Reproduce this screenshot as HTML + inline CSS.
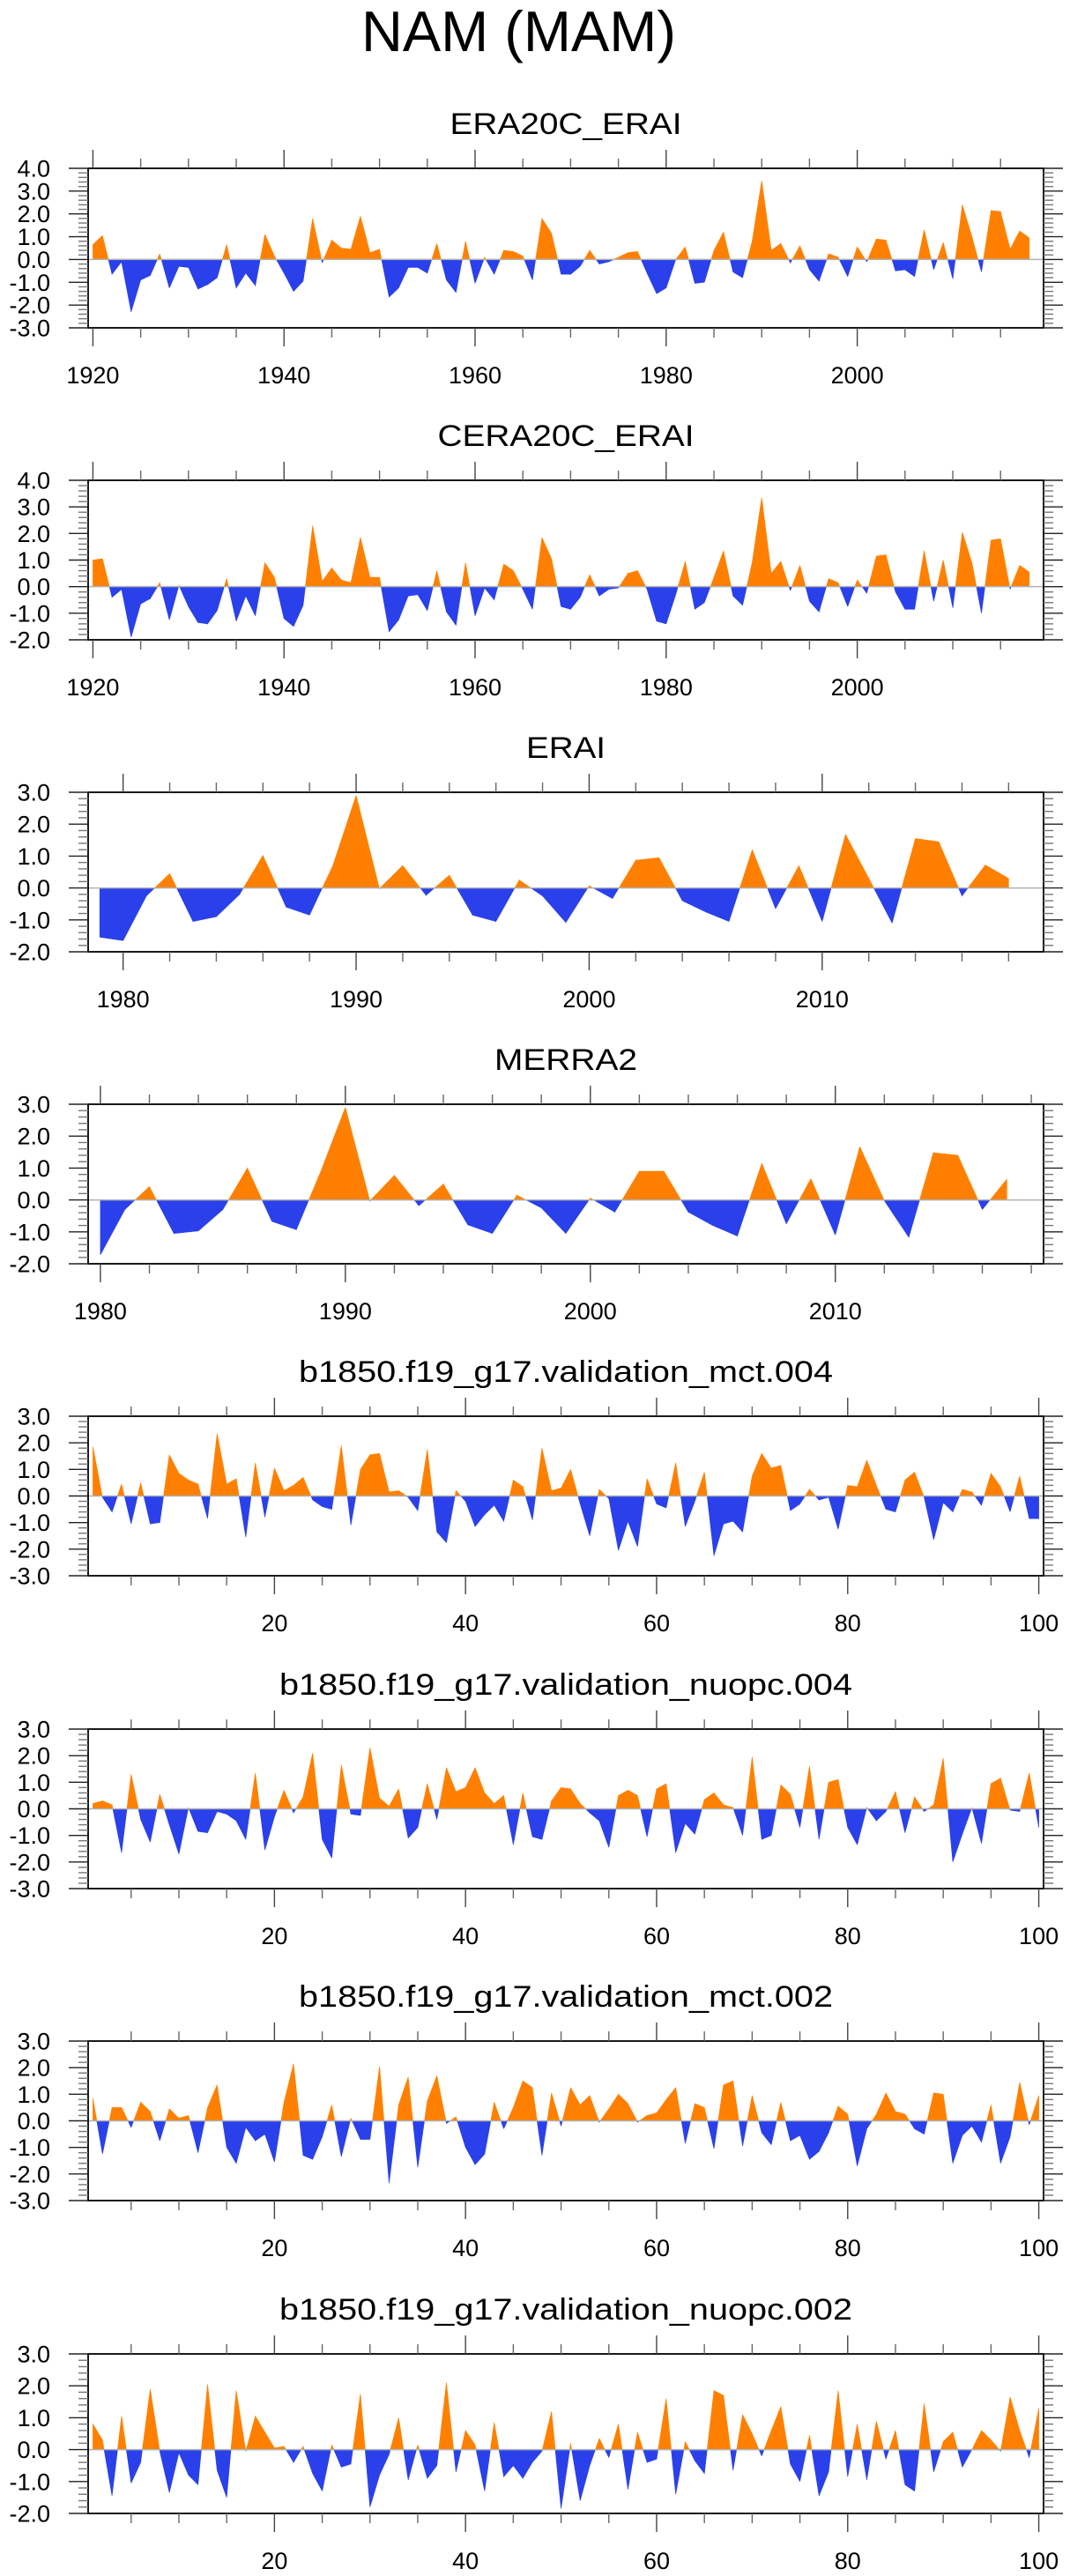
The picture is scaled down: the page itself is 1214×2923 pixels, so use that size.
<!DOCTYPE html>
<html><head><meta charset="utf-8"><style>
html,body{margin:0;padding:0;background:#fff;}
svg{display:block;font-family:"Liberation Sans",Arial,sans-serif;}
</style></head><body>
<svg id="fig" width="1214" height="2923" viewBox="0 0 1214 2923" xmlns="http://www.w3.org/2000/svg">
<text x="410" y="58" font-size="65" textLength="357" lengthAdjust="spacingAndGlyphs">NAM (MAM)</text>
</svg>
<script>
const titles = ["ERA20C_ERAI","CERA20C_ERAI","ERAI","MERRA2","b1850.f19_g17.validation_mct.004","b1850.f19_g17.validation_nuopc.004","b1850.f19_g17.validation_mct.002","b1850.f19_g17.validation_nuopc.002"];
const titleWidths = [263,291,90,162,606,650,606,650];
const xStarts = [1920,1920,1979,1980,1,1,1,1];
const yMins = [-3,-2,-2,-2,-3,-3,-3,-2];
const yMaxs = [4,4,3,3,3,3,3,3];
const xMins = [1919.5,1919.5,1978.5,1979.5,0.5,0.5,0.5,0.5];
const xMaxs = [2019.5,2019.5,2019.5,2018.5,100.5,100.5,100.5,100.5];
const xMajor = [20,20,10,10,20,20,20,20];
const xMinor = [5,5,2,2,5,5,5,5];
const xTickLabels = [[1920,1940,1960,1980,2000],[1920,1940,1960,1980,2000],[1980,1990,2000,2010],[1980,1990,2000,2010],[20,40,60,80,100],[20,40,60,80,100],[20,40,60,80,100],[20,40,60,80,100]];

const era20c = [0.65,1.05,-0.65,-0.1,-2.3,-0.9,-0.7,0.25,-1.25,-0.3,-0.35,-1.3,-1.1,-0.8,0.65,-1.25,-0.6,-1.15,1.1,0.15,-0.6,-1.4,-0.95,1.8,-0.15,0.85,0.5,0.45,1.9,0.3,0.45,-1.65,-1.25,-0.35,-0.35,-0.6,0.7,-0.9,-1.45,0.8,-1.05,0.1,-0.65,0.4,0.35,0.15,-0.9,1.8,1.15,-0.65,-0.65,-0.3,0.4,-0.2,-0.1,0.1,0.3,0.35,-0.6,-1.5,-1.25,0.0,0.55,-1.05,-1.0,0.4,1.2,-0.55,-0.8,0.8,3.45,0.4,0.7,-0.15,0.6,-0.45,-0.95,0.25,0.1,-0.75,0.55,-0.1,0.9,0.85,-0.5,-0.45,-0.75,1.3,-0.45,0.75,-0.85,2.4,1.0,-0.55,2.15,2.1,0.45,1.25,0.95];
const cera20c = [1.0,1.05,-0.4,-0.1,-1.9,-0.65,-0.45,0.15,-1.25,0.05,-0.75,-1.35,-1.4,-0.9,0.3,-1.3,-0.35,-1.1,0.9,0.35,-1.2,-1.5,-0.7,2.3,0.2,0.7,0.25,0.15,1.85,0.35,0.35,-1.7,-1.25,-0.35,-0.3,-0.9,0.6,-0.95,-1.45,0.9,-1.1,-0.05,-0.5,0.85,0.6,-0.1,-0.85,1.85,1.05,-0.75,-0.85,-0.4,0.45,-0.35,-0.1,-0.05,0.5,0.6,-0.1,-1.3,-1.4,-0.3,0.95,-0.85,-0.6,0.35,1.35,-0.35,-0.7,0.9,3.35,0.5,0.95,-0.15,0.8,-0.55,-0.95,0.3,0.15,-0.75,0.25,-0.25,1.15,1.2,-0.2,-0.85,-0.85,1.35,-0.55,1.0,-0.8,2.05,0.9,-1.0,1.75,1.8,-0.1,0.8,0.55];
const erai = [-1.54,-1.65,-0.25,0.45,-1.05,-0.9,-0.2,1.02,-0.6,-0.85,0.7,2.9,-0.02,0.7,-0.23,0.4,-0.85,-1.05,0.25,-0.25,-1.08,0.07,-0.33,0.87,0.95,-0.4,-0.75,-1.05,1.2,-0.65,0.7,-1.05,1.68,0.3,-1.1,1.55,1.45,-0.25,0.72,0.3];
const merra2 = [-1.72,-0.3,0.42,-1.05,-0.97,-0.3,1.0,-0.67,-0.93,0.9,2.9,-0.03,0.77,-0.18,0.5,-0.78,-1.05,0.15,-0.25,-1.05,0.06,-0.38,0.9,0.9,-0.38,-0.8,-1.13,1.15,-0.75,0.67,-1.1,1.67,-0.02,-1.17,1.48,1.4,-0.3,0.65];
const mct004 = [1.85,-0.05,-0.6,0.45,-1.05,0.5,-1.05,-1.0,1.55,0.85,0.6,0.45,-0.85,2.35,0.45,0.65,-1.55,1.25,-0.8,1.05,0.2,0.4,0.7,-0.15,-0.4,-0.5,1.9,-1.1,1.0,1.55,1.6,0.15,0.2,-0.05,-0.55,1.75,-1.35,-1.75,0.2,-0.2,-1.15,-0.7,-0.35,-0.95,0.6,0.35,-0.9,1.8,0.2,0.3,1.0,-0.3,-1.5,0.25,-0.1,-2.05,-0.95,-1.9,0.65,-0.3,-0.45,1.25,-1.15,-0.2,0.9,-2.25,-1.05,-0.95,-1.35,0.75,1.6,1.05,1.15,-0.55,-0.3,0.25,-0.15,-0.05,-1.25,0.4,0.35,1.35,0.4,-0.5,-0.6,0.6,0.9,-0.05,-1.65,-0.25,-0.6,0.25,0.15,-0.35,0.85,0.35,-0.6,0.75,-0.85,-0.85];
const nuopc004 = [0.2,0.3,0.15,-1.65,1.3,-0.4,-1.25,0.55,-0.6,-1.7,0.05,-0.85,-0.9,-0.1,-0.2,-0.45,-1.15,1.35,-1.55,-0.3,0.7,-0.15,0.45,2.1,-1.15,-1.85,1.65,-0.2,-0.25,2.3,0.4,0.1,0.75,-1.1,-0.7,0.95,-0.4,1.55,0.65,0.8,1.55,0.6,0.2,0.5,-1.35,0.6,-1.05,-1.15,0.3,0.8,0.75,0.2,-0.15,-0.45,-1.45,0.5,0.7,0.5,-1.05,0.75,0.95,-1.65,-0.55,-0.95,0.35,0.6,0.15,0.05,-1.0,1.95,-1.15,-1.0,0.9,0.55,-0.7,1.6,-1.15,1.0,1.1,-0.7,-1.35,0.05,-0.45,-0.1,0.65,-0.9,0.45,-0.1,0.15,1.9,-2.0,-0.95,0.05,-1.3,0.95,1.15,-0.05,-0.1,1.35,-0.7];
const mct002 = [0.85,-1.25,0.5,0.5,-0.25,0.7,0.35,-0.75,0.45,0.1,0.2,-1.2,0.5,1.35,-1.0,-1.6,-0.25,-0.75,-0.5,-1.55,0.7,2.15,-1.3,-1.45,-0.6,0.6,-1.35,0.1,-0.7,-0.7,2.05,-2.35,0.6,1.65,-1.75,0.75,1.7,-0.1,0.15,-1.0,-1.65,-1.25,0.7,-0.3,0.5,1.5,1.25,-1.3,1.05,-0.2,1.25,0.6,0.95,-0.05,0.45,1.0,0.65,-0.05,0.2,0.3,0.8,1.25,-0.85,0.65,0.5,-1.05,1.35,1.5,-0.95,0.95,-0.45,-0.9,0.7,-0.75,-0.55,-1.45,-1.15,-0.45,0.55,0.25,-1.7,-0.3,0.25,1.05,0.35,0.25,-0.3,-0.5,1.05,1.0,-1.6,-0.55,-0.2,-0.8,0.6,-1.6,-0.6,1.45,-0.15,0.95];
const nuopc002 = [0.8,0.3,-1.45,1.05,-1.05,-0.4,1.9,-0.05,-1.35,-0.1,-0.8,-1.1,2.05,-0.65,-1.5,1.85,-0.05,1.05,0.55,0.05,0.1,-0.4,0.1,-0.75,-1.3,0.15,-0.55,-0.45,1.75,-1.8,-0.8,-0.15,1.0,-0.95,0.15,-0.9,-0.5,2.1,-0.7,0.6,0.15,-1.3,0.85,-0.85,-0.5,-0.9,-0.4,-0.05,1.2,-1.85,0.2,-1.6,-0.5,0.35,-0.25,0.8,-1.25,0.55,-0.4,-0.3,1.6,-1.4,0.25,-0.35,-0.75,1.85,1.7,-0.65,1.1,0.5,-0.2,0.6,1.35,-0.45,-1.0,0.45,-1.45,-0.7,1.85,-0.85,0.8,-0.95,0.9,-0.3,0.6,-1.1,-1.3,1.45,-0.7,0.25,0.55,-0.55,0.0,0.6,0.3,-0.05,1.65,0.6,-0.25,1.3];
const series = [era20c,cera20c,erai,merra2,mct004,nuopc004,mct002,nuopc002];

const NS = "http://www.w3.org/2000/svg";
const svg = document.getElementById("fig");
function mk(tag, attrs, parent){const e=document.createElementNS(NS,tag);for(const k in attrs)e.setAttribute(k,attrs[k]);(parent||svg).appendChild(e);return e;}
const BX0=100, BX1=1184, BH=181;
const tops=[191,545,899,1253,1607,1962,2316,2671];
function fmt(v){return v.toFixed(1);}

for(let p=0;p<8;p++){
  const T=tops[p], B=T+BH;
  const g=mk("g",{});
  
  
  const xs=v=>BX0+(v-xMins[p])/(xMaxs[p]-xMins[p])*(BX1-BX0);
  const ys=v=>B-(v-yMins[p])/(yMaxs[p]-yMins[p])*BH;
  const t=mk("text",{x:(BX0+BX1)/2,y:T-39,"font-size":34,"text-anchor":"middle",textLength:titleWidths[p],lengthAdjust:"spacingAndGlyphs"},g);
  t.textContent=titles[p];
  
  
  // fill polygons
  const d=series[p]; const x0=xStarts[p];
  const y0=ys(0);
  let pos="", neg="";
  for(let i=0;i<d.length-1;i++){
    const a=d[i], b=d[i+1], xa=xs(x0+i), xb=xs(x0+i+1);
    let segs=[];
    if((a>=0&&b>=0)||(a<=0&&b<=0)) segs.push([xa,a,xb,b]);
    else {const f=a/(a-b); const xc=xa+f*(xb-xa); segs.push([xa,a,xc,0]); segs.push([xc,0,xb,b]);}
    for(const s of segs){
      const poly=`M${s[0].toFixed(2)},${y0.toFixed(2)}L${s[0].toFixed(2)},${ys(s[1]).toFixed(2)}L${s[2].toFixed(2)},${ys(s[3]).toFixed(2)}L${s[2].toFixed(2)},${y0.toFixed(2)}Z`;
      if(s[1]+s[3]>=0) pos+=poly; else neg+=poly;
    }
  }
  const pp=mk("path",{d:pos,fill:"#ff8000",stroke:"#ff8000","stroke-width":0.6},g);
  
  
  const np=mk("path",{d:neg,fill:"#2a40ea",stroke:"#2a40ea","stroke-width":0.6},g);
  
  
  const zl=mk("line",{x1:BX0,x2:BX1,y1:y0,y2:y0,stroke:"#b0b0b0","stroke-width":1.5},g);
  
  
  // box
  const bx=mk("rect",{x:BX0,y:T,width:BX1-BX0,height:BH,fill:"none",stroke:"#000","stroke-width":1.8},g);
  
  
  // x ticks
  const first=Math.ceil(xMins[p]/xMinor[p])*xMinor[p];
  for(let v=first; v<=xMaxs[p]; v+=xMinor[p]){
    const X=xs(v); const major=(v%xMajor[p]===0);
    const L=major?21:11;
    mk("line",{x1:X,x2:X,y1:T,y2:T-L,stroke:major?"#444":"#666","stroke-width":1.4},g);
    mk("line",{x1:X,x2:X,y1:B,y2:B+L,stroke:major?"#444":"#666","stroke-width":1.4},g);
  }
  for(const v of xTickLabels[p]){
    const tl=mk("text",{x:xs(v),y:B+63,"font-size":27,"text-anchor":"middle"},g);
    tl.textContent=String(v);
    
    
  }
  // y ticks
  for(let k=Math.round(yMins[p]*5); k<=Math.round(yMaxs[p]*5); k++){
    const v=k/5, Y=ys(v), major=(k%5===0);
    const L=major?22:11;
    mk("line",{x1:BX0,x2:BX0-L,y1:Y,y2:Y,stroke:major?"#222":"#777","stroke-width":1.4},g);
    mk("line",{x1:BX1,x2:BX1+L,y1:Y,y2:Y,stroke:major?"#222":"#777","stroke-width":1.4},g);
    if(major){
      const yl=mk("text",{x:57,y:Y+9.5,"font-size":27,"text-anchor":"end"},g);
      yl.textContent=fmt(v);
      
      
    }
  }
}
</script>
</body></html>
